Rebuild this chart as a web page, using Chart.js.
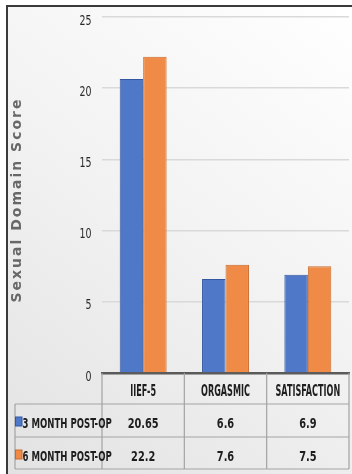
<!DOCTYPE html>
<html>
<head>
<meta charset="utf-8">
<script src="https://cdn.jsdelivr.net/npm/chart.js@4/dist/chart.umd.min.js"></script>
<style>
  html, body { margin: 0; padding: 0; background: #ffffff; }
  canvas { display: block; }
</style>
</head>
<body>
<canvas id="c" width="352" height="474"></canvas>
<script>
// ---- data ----
const categories = ['IIEF-5', 'ORGASMIC', 'SATISFACTION'];
const seriesNames = ['3 MONTH POST-OP', '6 MONTH POST-OP'];
const month3 = [20.65, 6.6, 6.9];
const month6 = [22.2, 7.6, 7.5];
const yMin = 0, yMax = 25, yStep = 5;
const yTitle = 'Sexual Domain Score';

// ---- styles ----
const fillColors = ['#4f78c8', '#f08b47'];
const edgeColors = ['#34589f', '#c96a2c'];
const NARROW = '"Liberation Sans Narrow", "DejaVu Sans Condensed", "Liberation Sans", sans-serif';

function condensedText(ctx, text, x, y, font, sx, align, color) {
  ctx.save();
  ctx.font = font;
  ctx.fillStyle = color;
  ctx.textAlign = align;
  ctx.textBaseline = 'middle';
  ctx.translate(x, y);
  ctx.scale(sx, 1);
  ctx.fillText(text, 0, 0);
  ctx.restore();
}

const framePlugin = {
  id: 'frame',
  beforeDraw(chart) {
    const ctx = chart.ctx;
    ctx.save();
    ctx.fillStyle = '#ffffff';
    ctx.fillRect(0, 0, chart.width, chart.height);
    const g = ctx.createLinearGradient(chart.width, 0, 0, chart.height);
    g.addColorStop(0, '#ffffff');
    g.addColorStop(0.5, '#f2f2f2');
    g.addColorStop(1, '#e2e2e2');
    ctx.fillStyle = g;
    ctx.fillRect(7, 6, chart.width - 7, chart.height - 6);
    ctx.strokeStyle = '#3a3a3a';
    ctx.lineWidth = 2;
    ctx.beginPath();
    ctx.moveTo(7, chart.height);
    ctx.lineTo(7, 6);
    ctx.lineTo(chart.width, 6);
    ctx.stroke();
    ctx.restore();
  }
};

const tablePlugin = {
  id: 'dataTable',
  afterDraw(chart) {
    const ctx = chart.ctx;
    const xs = chart.scales.x;
    const ys = chart.scales.y;
    const area = chart.chartArea;
    const n = categories.length;
    const colW = (area.right - area.left) / n;
    const rowTops = [area.bottom, area.bottom + 31, area.bottom + 64, area.bottom + 96];
    const labelLeft = 15;

    ctx.save();
    ctx.strokeStyle = '#a3a3a3';
    ctx.lineWidth = 1.2;
    ctx.beginPath();
    for (let r = 1; r < rowTops.length; r++) {
      ctx.moveTo(labelLeft, rowTops[r]);
      ctx.lineTo(area.right, rowTops[r]);
    }
    for (let i = 0; i <= n; i++) {
      const x = area.left + i * colW;
      ctx.moveTo(x, rowTops[0]);
      ctx.lineTo(x, rowTops[3]);
    }
    ctx.moveTo(labelLeft, rowTops[1]);
    ctx.lineTo(labelLeft, rowTops[3]);
    ctx.stroke();
    ctx.restore();

    // header labels
    categories.forEach((c, i) => {
      condensedText(ctx, c, xs.getPixelForValue(i), (rowTops[0] + rowTops[1]) / 2 + 4,
        'bold 15px ' + NARROW, 0.6, 'center', '#1e1e1e');
    });

    // rows
    const series = [month3, month6];
    series.forEach((vals, r) => {
      const top = rowTops[r + 1], bot = rowTops[r + 2];
      const cy = (top + bot) / 2 + 4;
      ctx.save();
      ctx.fillStyle = fillColors[r];
      ctx.strokeStyle = edgeColors[r];
      ctx.lineWidth = 1;
      ctx.fillRect(labelLeft + 0.5, top + 13, 6.5, 9);
      ctx.strokeRect(labelLeft + 0.5, top + 13, 6.5, 9);
      ctx.restore();
      condensedText(ctx, seriesNames[r], labelLeft + 7.5, cy,
        'bold 14px ' + NARROW, 0.68, 'left', '#1e1e1e');
      vals.forEach((v, i) => {
        condensedText(ctx, String(v), xs.getPixelForValue(i), cy,
          'bold 14px ' + NARROW, 0.78, 'center', '#1e1e1e');
      });
    });

    // y tick labels
    ys.ticks.forEach(t => {
      condensedText(ctx, String(t.value), area.left - 10.5, ys.getPixelForValue(t.value) + 4,
        '14px ' + NARROW, 0.75, 'right', '#2a2a2a');
    });

    // y axis title
    ctx.save();
    ctx.translate(17, 200);
    ctx.rotate(-Math.PI / 2);
    ctx.font = 'bold 14px "DejaVu Sans", sans-serif';
    if ('letterSpacing' in ctx) ctx.letterSpacing = '2px';
    ctx.fillStyle = '#686868';
    ctx.textAlign = 'center';
    ctx.textBaseline = 'middle';
    ctx.fillText(yTitle, 0, 0);
    ctx.restore();
  }
};

new Chart(document.getElementById('c'), {
  type: 'bar',
  data: {
    labels: categories,
    datasets: [
      { label: seriesNames[0], data: month3, backgroundColor: fillColors[0], borderColor: edgeColors[0], borderWidth: 1 },
      { label: seriesNames[1], data: month6, backgroundColor: fillColors[1], borderColor: edgeColors[1], borderWidth: 1 }
    ]
  },
  options: {
    responsive: false,
    animation: false,
    events: [],
    layout: { padding: { left: 7, top: 17, right: 3, bottom: 0 } },
    datasets: { bar: { categoryPercentage: 0.57, barPercentage: 1.0 } },
    plugins: { legend: { display: false }, tooltip: { enabled: false }, title: { display: false } },
    scales: {
      x: {
        grid: { display: false, drawTicks: false },
        border: { display: true, color: '#5a5a5a', width: 2.5 },
        ticks: { display: false },
        afterFit(scale) { scale.height = 101; }
      },
      y: {
        min: yMin, max: yMax,
        ticks: { display: false, stepSize: yStep },
        grid: {
          drawTicks: false,
          color: ctx => (ctx.tick && ctx.tick.value === 0) ? 'rgba(0,0,0,0)' : '#d9d9d9',
          lineWidth: 1.6
        },
        border: { display: false },
        afterFit(scale) { scale.width = 95; }
      }
    }
  },
  plugins: [framePlugin, tablePlugin]
});
</script>
</body>
</html>
